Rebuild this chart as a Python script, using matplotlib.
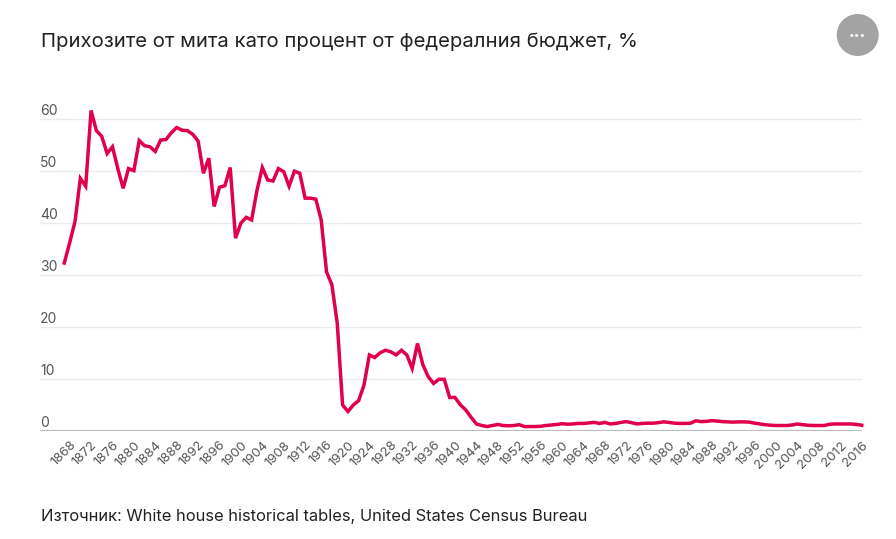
import matplotlib
matplotlib.use("Agg")
import matplotlib.pyplot as plt
from matplotlib.patches import Ellipse
import numpy as np

plt.rcParams['font.family'] = ['Inter', 'DejaVu Sans']

title = "Прихозите от мита като процент от федералния бюджет, %"
source = "Източник: White house historical tables, United States Census Bureau"

years = list(range(1867, 2017))
values = [
    32.3, 36.2, 40.3, 48.6, 47.1, 61.7, 57.8, 56.7, 53.4, 54.7,   # 1867-1876
    50.5, 46.7, 50.5, 50.1, 55.9, 54.9, 54.7, 53.8, 56.0, 56.1,   # 1877-1886
    57.4, 58.4, 57.9, 57.8, 57.1, 55.8, 49.6, 52.5, 43.2, 46.9,   # 1887-1896
    47.2, 50.7, 37.1, 40.0, 41.1, 40.6, 46.3, 50.7, 48.3, 48.1,   # 1897-1906
    50.5, 49.9, 47.1, 50.0, 49.6, 44.8, 44.8, 44.6, 40.6, 30.6,   # 1907-1916
    28.1, 20.7, 4.95, 3.7, 4.95, 5.8, 8.8, 14.6, 14.1, 15.0,      # 1917-1926
    15.5, 15.2, 14.6, 15.5, 14.6, 12.0, 16.8, 12.7, 10.4, 9.1,    # 1927-1936
    9.9, 9.9, 6.4, 6.4, 5.0, 4.0, 2.6, 1.3, 1.0, 0.8,             # 1937-1946
    1.0, 1.2, 1.0, 0.95, 1.0, 1.15, 0.8, 0.8, 0.8, 0.85,          # 1947-1956
    1.0, 1.1, 1.2, 1.35, 1.25, 1.3, 1.4, 1.4, 1.5, 1.6,           # 1957-1966
    1.4, 1.6, 1.3, 1.4, 1.6, 1.75, 1.55, 1.3, 1.4, 1.45,          # 1967-1976
    1.45, 1.55, 1.7, 1.6, 1.45, 1.4, 1.4, 1.45, 1.9, 1.75,        # 1977-1986
    1.8, 1.95, 1.85, 1.75, 1.7, 1.65, 1.7, 1.7, 1.65, 1.45,       # 1987-1996
    1.3, 1.15, 1.05, 1.0, 1.0, 1.0, 1.1, 1.3, 1.15, 1.05,         # 1997-2006
    1.0, 1.0, 1.0, 1.25, 1.3, 1.3, 1.3, 1.3, 1.2, 1.05,           # 2007-2016
]
xticks = list(range(1868, 2017, 4))
yticks = [0, 10, 20, 30, 40, 50, 60]

W, H = 896, 539
fig = plt.figure(figsize=(W / 100, H / 100), dpi=100)
fig.patch.set_facecolor('white')

ax = fig.add_axes([40 / W, (H - 430.7) / H, (862 - 40) / W, 332.2 / H])
ax.set_xlim(1862.46, 2016.05)
ax.set_ylim(0, 64)

for y in yticks[1:]:
    ax.axhline(y, color='#ebebeb', lw=1.0, zorder=1)
ax.axhline(0, color='#bdbdbd', lw=1.6, zorder=2)

ax.plot(years, values, color='#e0004d', lw=2.5, zorder=3,
        solid_joinstyle='miter', clip_on=False)

for s in ax.spines.values():
    s.set_visible(False)

ax.set_yticks([])
for y in yticks:
    ax.text(0.0, y + 0.15, str(y), transform=ax.get_yaxis_transform(),
            ha='left', va='bottom', fontsize=10, color='#555555')

ax.set_xticks(xticks)
ax.set_xticklabels([str(x) for x in xticks], rotation=45, ha='right',
                   rotation_mode='anchor', fontsize=9.5, color='#555555')
ax.tick_params(axis='x', length=0, pad=6)

fig.text(41 / W, 1 - 47 / H, title, fontsize=14.6, color='#222222',
         ha='left', va='baseline')
fig.text(41 / W, 1 - 521 / H, source, fontsize=11.9, color='#222222',
         ha='left', va='baseline')

circ = Ellipse((857.7 / W, 1 - 35 / H), 42 / W, 42 / H,
               transform=fig.transFigure, facecolor='#a3a3a3', edgecolor='none')
fig.patches.append(circ)
fig.text(857.7 / W, 1 - 35 / H, '•••', fontsize=7.5, color='white',
         ha='center', va='center')

fig.savefig('out.png', dpi=100, facecolor='white')
